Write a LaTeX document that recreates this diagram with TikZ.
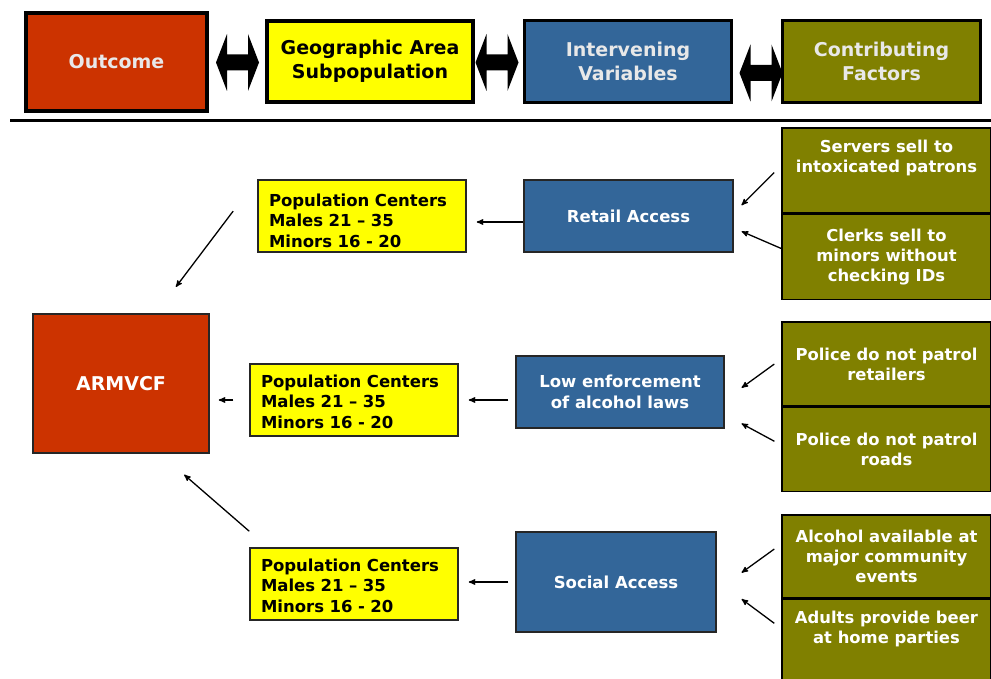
\documentclass[tikz,border=0pt]{standalone}
\usepackage{fontspec}
\setmainfont{DejaVu Sans}
\usepackage{xcolor}
\usetikzlibrary{arrows}
\usetikzlibrary{calc}
\usetikzlibrary{positioning}
\definecolor{outred}{HTML}{CC3300}
\definecolor{geoyel}{HTML}{FFFF00}
\definecolor{intblue}{HTML}{336699}
\definecolor{conolive}{HTML}{808000}
\definecolor{headtxt}{HTML}{E8E8E8}

\begin{document}
\begin{tikzpicture}[x=1pt,y=-1pt,>=stealth',auto,line width=1.3pt]
  \tikzstyle{head}=[draw=black, line width=4pt, align=center, inner sep=0pt, font=\fontsize{19}{24}\selectfont\bfseries]
  \tikzstyle{popbox}=[draw=black!85, fill=geoyel, line width=1.5pt, text width=186pt, inner xsep=11pt, inner ysep=0pt, minimum height=72pt, align=left, text height=12pt, text depth=31pt, font=\fontsize{16.5}{20.5}\selectfont\bfseries]
  \tikzstyle{varbox}=[draw=black!85, fill=intblue, line width=1.5pt, text=white, align=center, inner sep=0pt, font=\fontsize{16.5}{20.5}\selectfont\bfseries]
  \tikzstyle{factbox}=[draw=black, fill=conolive, line width=1.5pt, text=white, align=center, inner sep=0pt, minimum width=209pt, font=\fontsize{16.4}{20}\selectfont\bfseries]
  \tikzset{dblarr/.pic={\fill[black] (-21.5,0) -- (-10.5,-28.5) -- (-10.5,-8) -- (10.5,-8) -- (10.5,-28.5) -- (21.5,0) -- (10.5,28.5) -- (10.5,8) -- (-10.5,8) -- (-10.5,28.5) -- cycle;}}
  \useasboundingbox (0,0) rectangle (991,679);

  % header row
  \node[head, fill=outred, text=headtxt, minimum width=181pt, minimum height=98pt] (out) at (116.5,62) {Outcome};
  \node[head, fill=geoyel, text=black, minimum width=206pt, minimum height=81pt] (geo) at (370,61.5) {Geographic Area\\Subpopulation};
  \node[head, fill=intblue, text=headtxt, line width=3pt, minimum width=207pt, minimum height=82pt] (int) at (628,61.5) {Intervening\\Variables};
  \node[head, fill=conolive, text=headtxt, line width=3pt, minimum width=198pt, minimum height=82pt] (con) at (881.5,61.5) {Contributing\\Factors};
  \pic (d1) at (237.5,62.5) {dblarr};
  \pic (d2) at (497,62.5) {dblarr};
  \pic (d3) at (761,73) {dblarr};
  \coordinate (rl) at (10,121);
  \coordinate (rr) at (991,121);
  \draw[line width=3pt] (rl) -- (rr);

  % outcome
  \node[draw=black!85, fill=outred, text=white, line width=1.5pt, minimum width=176pt, minimum height=139pt, font=\fontsize{19}{22}\selectfont\bfseries] (arm) at (121,383.5) {ARMVCF};

  % subpopulations
  \node[popbox] (pop1) at (362,216) {Population Centers\\Males 21 -- 35\\Minors 16 - 20};
  \node[popbox, text depth=38pt] (pop2) at (354,400) {Population Centers\\Males 21 -- 35\\Minors 16 - 20};
  \node[popbox, text depth=38pt] (pop3) at (354,584) {Population Centers\\Males 21 -- 35\\Minors 16 - 20};

  % intervening variables
  \node[varbox, minimum width=209pt, minimum height=72pt] (ret) at (628.5,216) {Retail Access};
  \node[varbox, minimum width=208pt, minimum height=72pt] (low) at (620,392) {Low enforcement\\of alcohol laws};
  \node[varbox, minimum width=200pt, minimum height=100pt] (soc) at (616,582) {Social Access};

  % contributing factors
  \node[factbox, minimum height=85pt] (srv) at (886.5,170.5) {Servers sell to\\intoxicated patrons\\[8pt]\mbox{}};
  \node[factbox, minimum height=85pt] (clk) [below=0pt of srv] {Clerks sell to\\minors without\\checking IDs};
  \node[factbox, minimum height=84pt] (pol1) at (886.5,364) {Police do not patrol\\retailers};
  \node[factbox, minimum height=84pt] (pol2) [below=0pt of pol1] {Police do not patrol\\roads};
  \node[factbox, minimum height=83pt] (alc) at (886.5,556.5) {Alcohol available at\\major community\\events};
  \node[factbox, minimum height=86pt] (adu) [below=0pt of alc] {Adults provide beer\\at home parties\\[10pt]\mbox{}};

  \path[->]
  ([yshift=-6pt]ret.west) edge[shorten >=10pt] ([yshift=-6pt]pop1.east)
  (pop2.east -| low.west) edge[shorten <=7pt, shorten >=10pt] (pop2.east)
  (soc.west) edge[shorten <=7pt, shorten >=10pt] (soc.west -| pop3.east)
  (pop1.north west) edge[shorten <=40pt, shorten >=33pt] ([xshift=35pt]arm.north)
  (pop2.west) edge[shorten <=16pt, shorten >=9pt] (pop2.west -| arm.east)
  ([yshift=16pt]pop3.north west) edge[shorten >=32pt] ([xshift=39pt]arm.south)
  ([yshift=5pt]srv.west) edge[shorten <=10pt, shorten >=11pt] ([yshift=3pt]ret.east)
  ([yshift=8.5pt]clk.west) edge[shorten >=8.6pt] ([yshift=-12pt]ret.east)
  ([yshift=5pt]pol1.west) edge[shorten <=8.6pt, shorten >=20.8pt] ([yshift=-8pt]low.east)
  ([yshift=4.5pt]pol2.west) edge[shorten <=7.8pt, shorten >=19pt] ([yshift=-22.5pt]low.east)
  ([yshift=12.5pt]alc.west) edge[shorten <=8.6pt, shorten >=30.6pt] ([yshift=-8.6pt]soc.east)
  ([yshift=14pt]adu.west) edge[shorten <=8.7pt, shorten >=31pt] ([yshift=1.4pt]soc.east);
\end{tikzpicture}
\end{document}
